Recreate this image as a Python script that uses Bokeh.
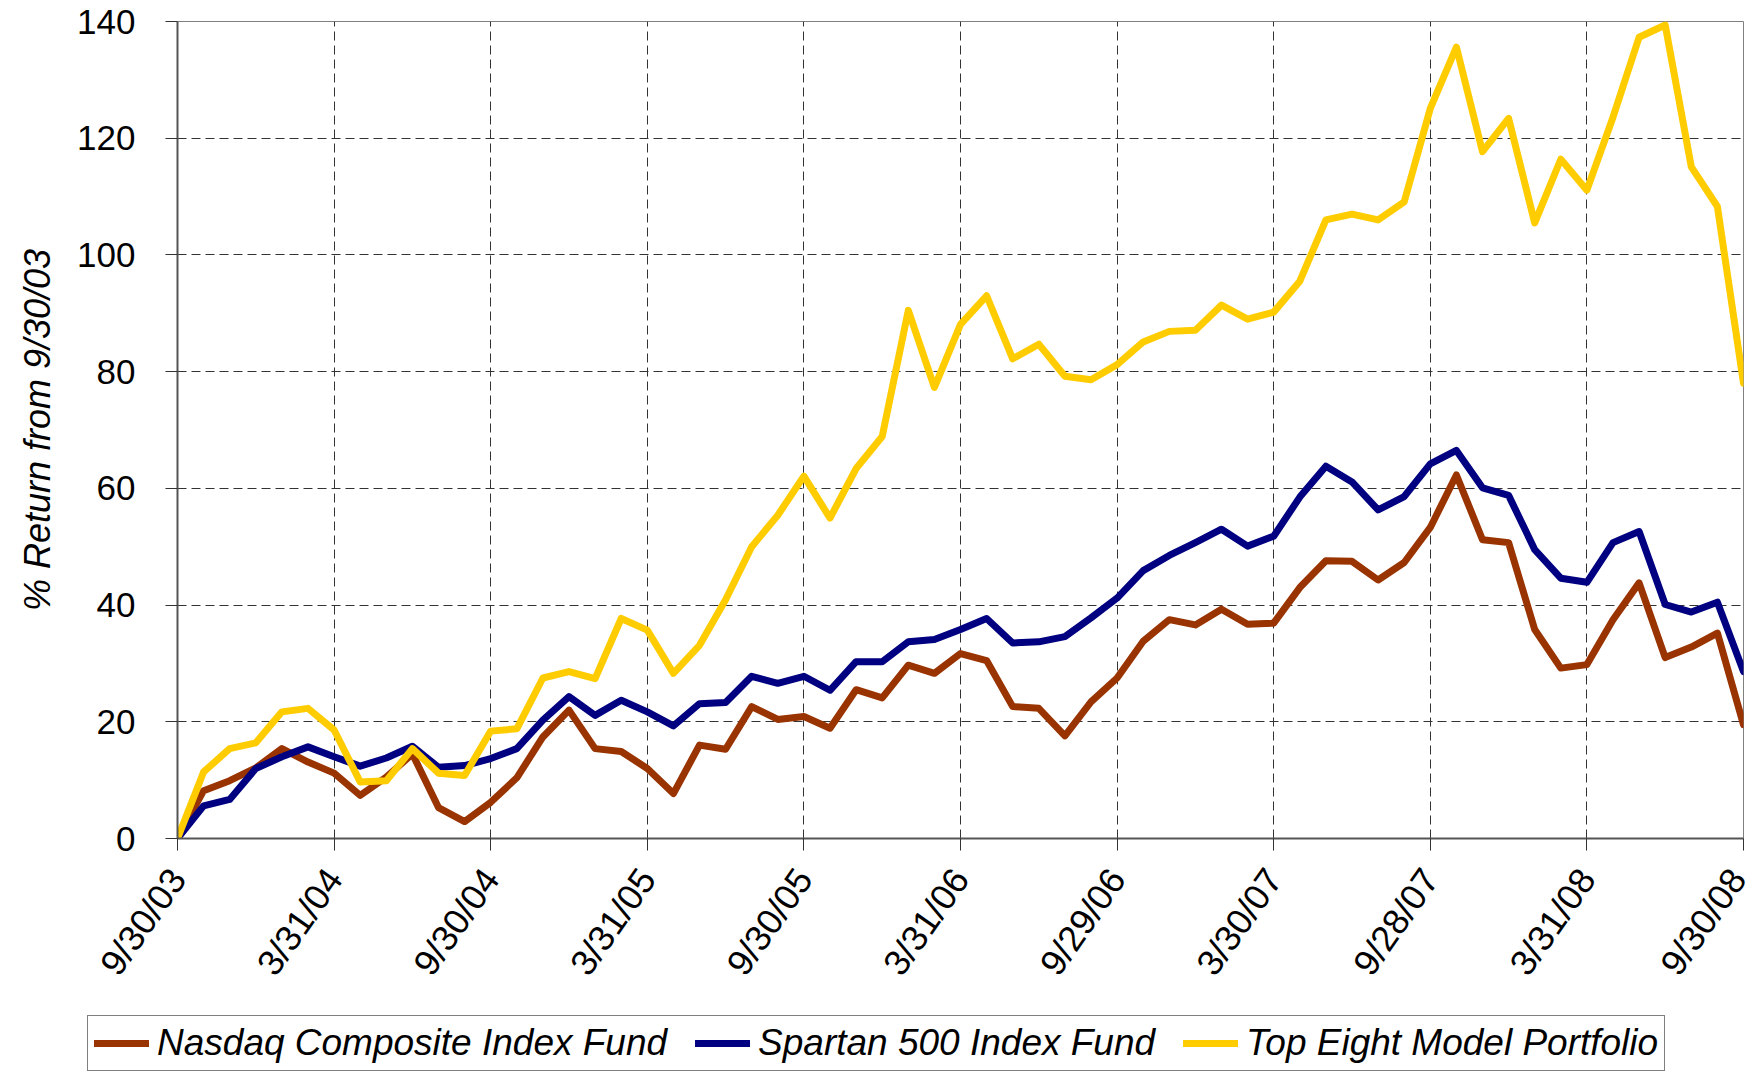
import math
from bokeh.plotting import figure
from bokeh.layouts import column
from bokeh.models import Range1d, FixedTicker, Legend, LegendItem
from bokeh.embed import file_html
from bokeh.resources import INLINE

# ---- data (month-end % return from 9/30/03) ----
tick_labels = ["9/30/03", "3/31/04", "9/30/04", "3/31/05", "9/30/05", "3/31/06",
               "9/29/06", "3/30/07", "9/28/07", "3/31/08", "9/30/08"]

nasdaq = [0, 8.2, 9.9, 12.1, 15.4, 13.1, 11.2, 7.4, 10.5, 14.5,
          5.3, 2.9, 6.2, 10.4, 17.4, 22.0, 15.4, 14.9, 12.0, 7.7,
          16.0, 15.3, 22.6, 20.4, 20.9, 18.9, 25.5, 24.1, 29.7, 28.3,
          31.7, 30.5, 22.6, 22.3, 17.6, 23.4, 27.5, 33.8, 37.5, 36.6,
          39.3, 36.7, 36.9, 43.0, 47.6, 47.5, 44.3, 47.3, 53.3, 62.3,
          51.2, 50.7, 35.8, 29.2, 29.8, 37.5, 43.8, 31.0, 32.8, 35.2,
          19.5]

spartan = [0, 5.6, 6.7, 12.0, 14.0, 15.7, 14.0, 12.4, 13.8, 15.8,
           12.2, 12.5, 13.7, 15.4, 20.3, 24.3, 21.1, 23.7, 21.7, 19.3,
           23.1, 23.3, 27.8, 26.6, 27.8, 25.4, 30.3, 30.3, 33.7, 34.1,
           35.8, 37.7, 33.5, 33.7, 34.6, 37.8, 41.2, 45.9, 48.5, 50.7,
           53.0, 50.1, 51.8, 58.5, 63.8, 61.1, 56.3, 58.6, 64.2, 66.5,
           60.1, 58.8, 49.5, 44.6, 43.9, 50.7, 52.6, 40.1, 38.8, 40.5,
           28.6]

top_eight = [0, 11.4, 15.4, 16.4, 21.7, 22.3, 18.6, 9.7, 9.9, 15.4,
             11.2, 10.8, 18.4, 18.8, 27.5, 28.6, 27.4, 37.7, 35.7, 28.3,
             33.1, 40.9, 50.0, 55.4, 62.1, 54.9, 63.4, 68.9, 90.5, 77.3,
             88.1, 93.0, 82.2, 84.7, 79.2, 78.6, 81.2, 85.1, 86.9, 87.1,
             91.4, 89.0, 90.2, 95.5, 106.0, 107.0, 106.0, 109.1, 125.1, 135.6,
             117.7, 123.4, 105.5, 116.4, 111.1, 123.6, 137.3, 139.4, 115.1, 108.3,
             78.0]

series_names = ["Nasdaq Composite Index Fund", "Spartan 500 Index Fund",
                "Top Eight Model Portfolio"]
series_colors = ["#993300", "#000080", "#FFCC00"]
series_values = [nasdaq, spartan, top_eight]

months = list(range(len(nasdaq)))
months_per_tick = (len(months) - 1) // (len(tick_labels) - 1)
tick_positions = [i * months_per_tick for i in range(len(tick_labels))]

FONT = "Liberation Sans"
LINE_W = 7

# ---------------- main chart ----------------
p = figure(width=1754, height=1010, output_backend="svg", toolbar_location=None,
           x_range=Range1d(0, months[-1]), y_range=Range1d(0, 140),
           min_border_left=177, min_border_right=11, min_border_top=21,
           min_border_bottom=172)
p.frame_align = False
p.background_fill_color = "white"
p.border_fill_color = "white"
p.outline_line_color = "#808080"
p.outline_line_width = 1

for vals, col in zip(series_values, series_colors):
    p.line(months, vals, line_color=col, line_width=LINE_W,
           line_join="round", line_cap="round")

p.xaxis.ticker = FixedTicker(ticks=tick_positions)
p.xaxis.major_label_overrides = {pos: lab for pos, lab in zip(tick_positions, tick_labels)}
p.xaxis.major_label_orientation = math.radians(55)
p.yaxis.ticker = FixedTicker(ticks=list(range(0, 141, 20)))

for ax in [p.xaxis[0], p.yaxis[0]]:
    ax.axis_line_color = "#555555"
    ax.axis_line_width = 2
    ax.major_tick_line_color = "#333333"
    ax.major_tick_line_width = 1
    ax.major_tick_in = 0
    ax.major_tick_out = 12
    ax.minor_tick_line_color = None
    ax.major_label_text_font = FONT
    ax.major_label_text_color = "black"

p.xaxis.major_label_text_font_size = "36px"
p.yaxis.major_label_text_font_size = "35px"
p.xaxis.major_label_standoff = 22
p.yaxis.major_label_standoff = 30

p.yaxis.axis_label = "% Return from 9/30/03"
p.yaxis.axis_label_text_font = FONT
p.yaxis.axis_label_text_font_style = "italic"
p.yaxis.axis_label_text_font_size = "36px"
p.yaxis.axis_label_text_color = "black"
p.yaxis.axis_label_standoff = 16

for g in [p.xgrid[0], p.ygrid[0]]:
    g.grid_line_color = "#333333"
    g.grid_line_width = 1
    g.grid_line_dash = "9 5"

# ---------------- legend strip (its own small figure below) ----------------
q = figure(width=1754, height=63, output_backend="svg", toolbar_location=None,
           x_axis_type=None, y_axis_type=None,
           x_range=Range1d(1000, 1001), y_range=Range1d(1000, 1001),
           min_border_left=0, min_border_right=0, min_border_top=0, min_border_bottom=0)
q.frame_align = False
q.outline_line_color = None
q.background_fill_color = "white"
q.border_fill_color = "white"
q.xgrid.visible = False
q.ygrid.visible = False

# same series, outside this strip's view: only their legend swatches show
leg_renderers = [q.line(months, vals, line_color=col, line_width=LINE_W, line_cap="round")
                 for vals, col in zip(series_values, series_colors)]

legend = Legend(items=[LegendItem(label=n, renderers=[r]) for n, r in zip(series_names, leg_renderers)],
                orientation="horizontal", location=(87, 2))
legend.label_text_font = FONT
legend.label_text_font_style = "italic"
legend.label_text_font_size = "37px"
legend.label_text_color = "black"
legend.glyph_width = 55
legend.glyph_height = 30
legend.label_standoff = 8
legend.spacing = 28
legend.padding = 6
legend.margin = 0
legend.border_line_color = "black"
legend.border_line_width = 1.5
legend.background_fill_color = "white"
legend.background_fill_alpha = 1
q.add_layout(legend)

layout = column(p, q, spacing=0)
open("out.html", "w").write(file_html(layout, INLINE))
